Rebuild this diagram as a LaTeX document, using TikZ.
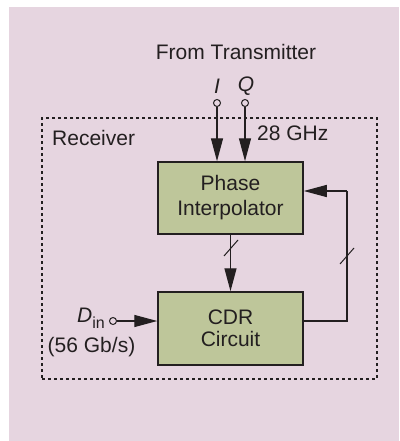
\documentclass[tikz,border=0pt]{standalone}
\usepackage{fontspec}
\setmainfont{Liberation Sans}
\usetikzlibrary{arrows.meta}
\definecolor{bgpink}{HTML}{E6D5E0}
\definecolor{boxgreen}{HTML}{BEC69A}
\definecolor{ink}{HTML}{231F20}
\begin{document}
\begin{tikzpicture}[x=1pt,y=-1pt, font=\fontsize{21}{24}\selectfont,
  blk/.style={draw=ink, line width=1.5pt, fill=boxgreen, minimum width=145pt, minimum height=72pt, align=center, inner sep=0pt, text=ink},
  sig/.style={draw=ink, line width=1.3pt, -{Triangle[length=23pt,width=12pt]}},
  wire/.style={draw=ink, line width=1.3pt},
  term/.style={circle, draw=ink, line width=1pt, fill=bgpink, minimum size=7pt, inner sep=0pt},
  txt/.style={text=ink, inner sep=0pt},
  bus/.style={draw=ink, line width=1pt}]
\useasboundingbox (0,0) rectangle (399,441);
\fill[bgpink] (9,7) rectangle (399,441);
\node[draw=ink, line width=1.1pt, dash pattern=on 3pt off 3pt, minimum width=335pt, minimum height=261pt, inner sep=0pt] (rx) at (209.5,248.5) {};
\node[txt, anchor=west] (rl) at (52,138) {Receiver};
\node[blk, font=\fontsize{21}{25}\selectfont] (pi) at (230.5,198) {Phase\\Interpolator};
\node[blk, minimum height=73pt, font=\fontsize{21}{22}\selectfont] (cdr) at (230.5,328.5) {CDR\\Circuit};
% inputs from transmitter
\node[txt] (ft) at (236,52) {From Transmitter};
\node[txt] (li) at (217,86) {\itshape I};
\node[txt] (lq) at (246,86) {\itshape Q};
\node[term] (ti) at (217,103) {};
\node[term] (tq) at (245,103) {};
\draw[sig] (ti) -- (ti |- pi.north);
\draw[sig] (tq) -- (tq |- pi.north);
\node[txt, anchor=west] (ghz) at (257,133) {28 GHz};
% PI -> CDR
\draw[sig] (pi) -- (cdr);
\coordinate (s1) at (231,248);
\draw[bus] (s1) ++(-7,8) -- ++(14,-16);
% feedback
\coordinate (fbr) at (347,321);
\coordinate (fbt) at (347,191);
\draw[wire] (cdr.east |- fbr) -- (fbr) -- (fbt);
\draw[sig] (fbt) -- (pi.east |- fbt);
\coordinate (s2) at (347,256);
\draw[bus] (s2) ++(-7,8) -- ++(14,-16);
% data input
\node[term] (td) at (113,321) {};
\draw[sig] (td) -- (cdr.west |- td);
\node[txt, anchor=east] (ld) at (105,318) {\itshape D\normalfont\raisebox{-0.3em}{\fontsize{16}{16}\selectfont in}};
\node[txt] (lr) at (91.5,347) {(56 Gb/s)};
\end{tikzpicture}
\end{document}
